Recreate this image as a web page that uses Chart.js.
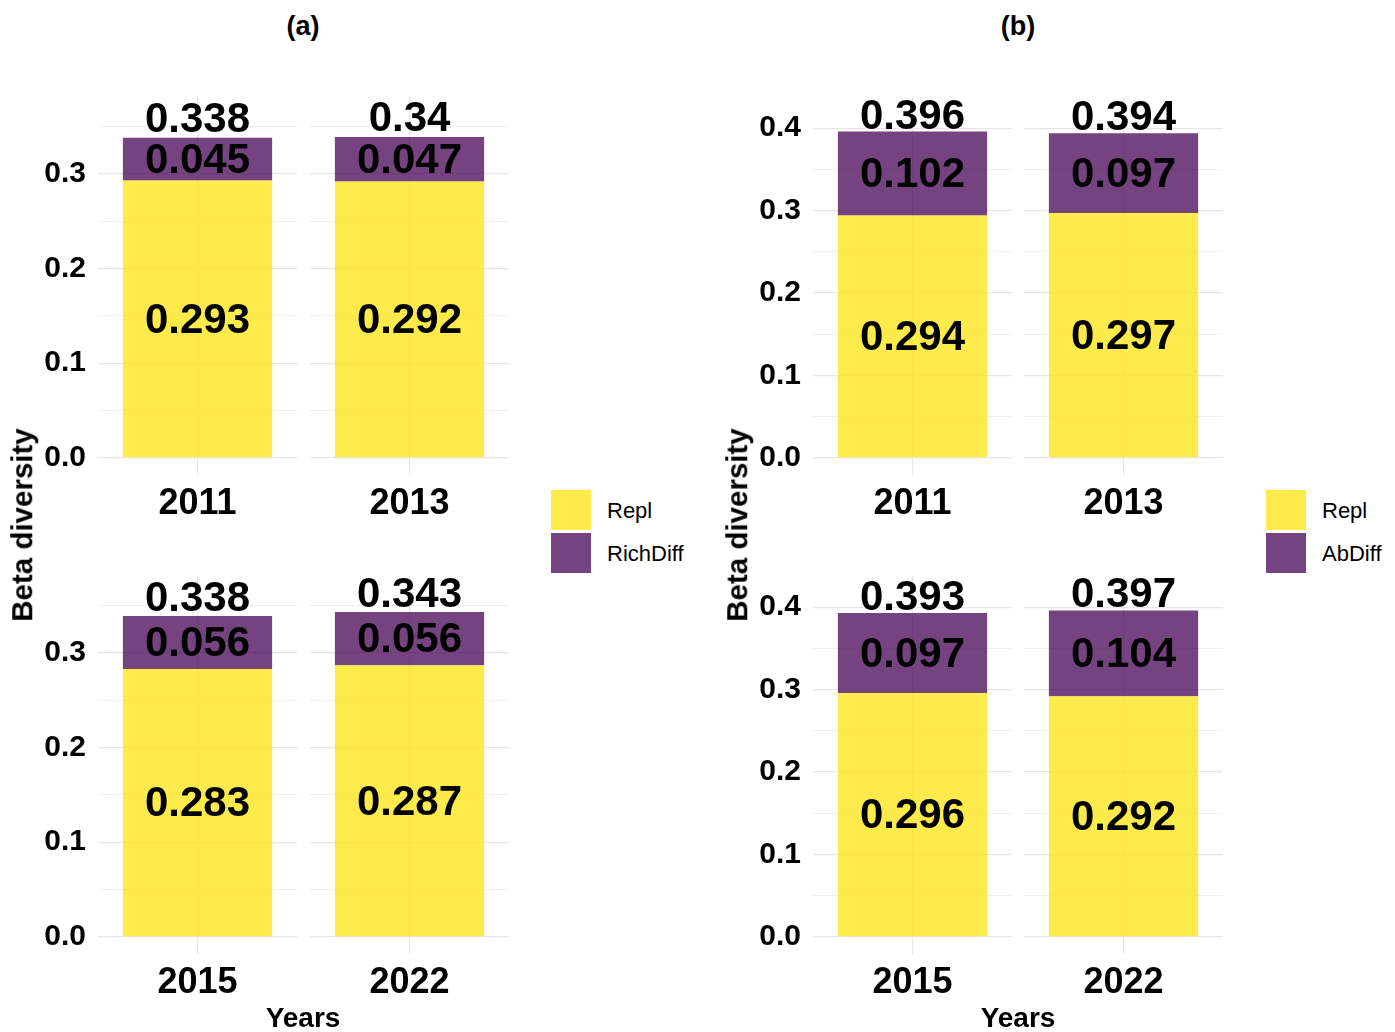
<!DOCTYPE html>
<html>
<head>
<meta charset="utf-8">
<script src="https://cdn.jsdelivr.net/npm/chart.js@4.4.1/dist/chart.umd.min.js"></script>
<style>
  html, body { margin: 0; padding: 0; background: #fff; }
  body { width: 1395px; height: 1032px; position: relative; overflow: hidden;
         font-family: "Liberation Sans", Arial, Helvetica, sans-serif; color: #000; }
  canvas { position: absolute; }
  .txt { position: absolute; white-space: nowrap; line-height: 1; }
  .title { font-weight: bold; font-size: 27px; transform: translate(-50%, -50%); }
  .axis-x { font-weight: bold; font-size: 28px; transform: translate(-50%, -50%); }
  .axis-y { font-weight: bold; font-size: 29.5px; transform: translate(-50%, -50%) rotate(-90deg); }
  .key { position: absolute; width: 40px; height: 40px; }
  .key-label { font-size: 22px; transform: translateY(-50%); }
</style>
</head>
<body>
<script>
// Stacked beta-diversity components per sampling year
const years = ['2011', '2013', '2015', '2022'];

// (a) replacement vs richness difference
const replA = [0.293, 0.292, 0.283, 0.287];
const richDiffA = [0.045, 0.047, 0.056, 0.056];
const totalA = [0.338, 0.34, 0.338, 0.343];

// (b) replacement vs abundance difference
const replB = [0.294, 0.297, 0.296, 0.292];
const abDiffB = [0.102, 0.097, 0.097, 0.104];
const totalB = [0.396, 0.394, 0.393, 0.397];

// y gridlines (major ones get a label)
const gridA = [0, 0.05, 0.1, 0.15, 0.2, 0.25, 0.3, 0.35];
const gridB = [0, 0.05, 0.1, 0.15, 0.2, 0.25, 0.3, 0.35, 0.4];
const majorTicks = [0, 0.1, 0.2, 0.3, 0.4];
const majorTickLabels = ['0.0', '0.1', '0.2', '0.3', '0.4'];

const FONT = '"Liberation Sans", Arial, Helvetica, sans-serif';
const YELLOW = 'rgba(253, 231, 37, 0.82)';
const PURPLE = 'rgba(68, 1, 84, 0.74)';
const GRID_MAJOR = '#E6E6E6';
const GRID_MINOR = '#F0F0F0';
const LABEL_GAP = 0.02;      // total label sits a little above the stack
const LABEL_NUDGE = 2;       // canvas 'middle' baseline sits a touch high for digits

// facet geometry: plot area size, room for the y labels, headroom and the year row
const PLOT_W = 199, PLOT_H = 378;
const AXIS_W = 62, PAD_TOP = 32, AXIS_H = 70;

function isMajor(v) { return majorTicks.some(m => Math.abs(m - v) < 1e-9); }
function tickText(v) {
  const i = majorTicks.findIndex(m => Math.abs(m - v) < 1e-9);
  return i >= 0 ? majorTickLabels[i] : '';
}

const valueLabels = {
  id: 'valueLabels',
  afterDatasetsDraw(chart, args, opts) {
    const { ctx, scales: { x, y } } = chart;
    const ds = chart.data.datasets;
    const cx = x.getPixelForValue(0);
    const r = ds[0].data[0], d = ds[1].data[0];
    ctx.save();
    ctx.font = 'bold 42px ' + FONT;
    ctx.fillStyle = '#000';
    ctx.textAlign = 'center';
    ctx.textBaseline = 'middle';
    ctx.fillText(String(r), cx, y.getPixelForValue(r / 2) + LABEL_NUDGE);
    ctx.fillText(String(d), cx, y.getPixelForValue(r + d / 2) + LABEL_NUDGE);
    ctx.fillText(String(opts.total), cx, y.getPixelForValue(opts.total + LABEL_GAP) + LABEL_NUDGE);
    ctx.restore();
  }
};

function facet(left, top, year, repl, diff, total, diffName, grid, yMin, yMax, showY) {
  const cv = document.createElement('canvas');
  cv.width = AXIS_W + PLOT_W;
  cv.height = PAD_TOP + PLOT_H + AXIS_H;
  cv.style.left = (left - AXIS_W) + 'px';
  cv.style.top = (top - PAD_TOP) + 'px';
  document.body.appendChild(cv);
  new Chart(cv, {
    type: 'bar',
    data: {
      labels: [year],
      datasets: [
        { label: 'Repl', data: [repl], backgroundColor: YELLOW, borderWidth: 0,
          barPercentage: 0.75, categoryPercentage: 1 },
        { label: diffName, data: [diff], backgroundColor: PURPLE, borderWidth: 0,
          barPercentage: 0.75, categoryPercentage: 1 }
      ]
    },
    options: {
      responsive: false,
      animation: false,
      devicePixelRatio: 1,
      layout: { padding: { top: PAD_TOP, left: 0, right: 0, bottom: 0 } },
      plugins: {
        legend: { display: false },
        tooltip: { enabled: false },
        valueLabels: { total: total }
      },
      scales: {
        x: {
          stacked: true,
          offset: true,
          grid: { offset: false, color: GRID_MAJOR, lineWidth: 1.2, drawTicks: false },
          border: { display: false },
          ticks: { color: '#000', font: { family: FONT, weight: 'bold', size: 36 }, padding: 7 },
          afterFit(s) { s.height = AXIS_H; }
        },
        y: {
          stacked: true,
          min: yMin,
          max: yMax,
          grid: {
            drawTicks: false,
            color: c => isMajor(c.tick.value) ? GRID_MAJOR : GRID_MINOR,
            lineWidth: c => isMajor(c.tick.value) ? 1.3 : 1
          },
          border: { display: false },
          ticks: {
            color: showY ? '#000' : 'rgba(0,0,0,0)',
            font: { family: FONT, weight: 'bold', size: 30 },
            padding: 12,
            callback: v => tickText(v)
          },
          afterBuildTicks(s) { s.ticks = grid.map(v => ({ value: v })); },
          afterFit(s) { s.width = AXIS_W; }
        }
      }
    },
    plugins: [valueLabels]
  });
}

function panel(lefts, tops, repl, diff, total, diffName, grid) {
  const top = Math.max(...total) + LABEL_GAP;
  const pad = 0.05 * top;
  for (let i = 0; i < years.length; i++) {
    const col = i % 2, row = Math.floor(i / 2);
    facet(lefts[col], tops[row], years[i], repl[i], diff[i], total[i], diffName,
          grid, -pad, top + pad, col === 0);
  }
}

panel([98, 310], [97, 576], replA, richDiffA, totalA, 'RichDiff', gridA);
panel([813, 1024], [97, 576], replB, abDiffB, totalB, 'AbDiff', gridB);

// titles, axis titles and legends
function text(cls, str, x, y) {
  const d = document.createElement('div');
  d.className = 'txt ' + cls;
  d.textContent = str;
  d.style.left = x + 'px';
  d.style.top = y + 'px';
  document.body.appendChild(d);
}
function legend(x, y, names) {
  const cols = [YELLOW, PURPLE];
  names.forEach((n, i) => {
    const k = document.createElement('div');
    k.className = 'key';
    k.style.left = x + 'px';
    k.style.top = (y + i * 43) + 'px';
    k.style.background = cols[i];
    document.body.appendChild(k);
    text('key-label', n, x + 56, y + i * 43 + 21);
  });
}

text('title', '(a)', 303, 26);
text('title', '(b)', 1018, 26);
text('axis-x', 'Years', 303, 1018);
text('axis-x', 'Years', 1018, 1018);
text('axis-y', 'Beta diversity', 22, 525);
text('axis-y', 'Beta diversity', 737, 525);
legend(551, 490, ['Repl', 'RichDiff']);
legend(1266, 490, ['Repl', 'AbDiff']);
</script>
</body>
</html>
